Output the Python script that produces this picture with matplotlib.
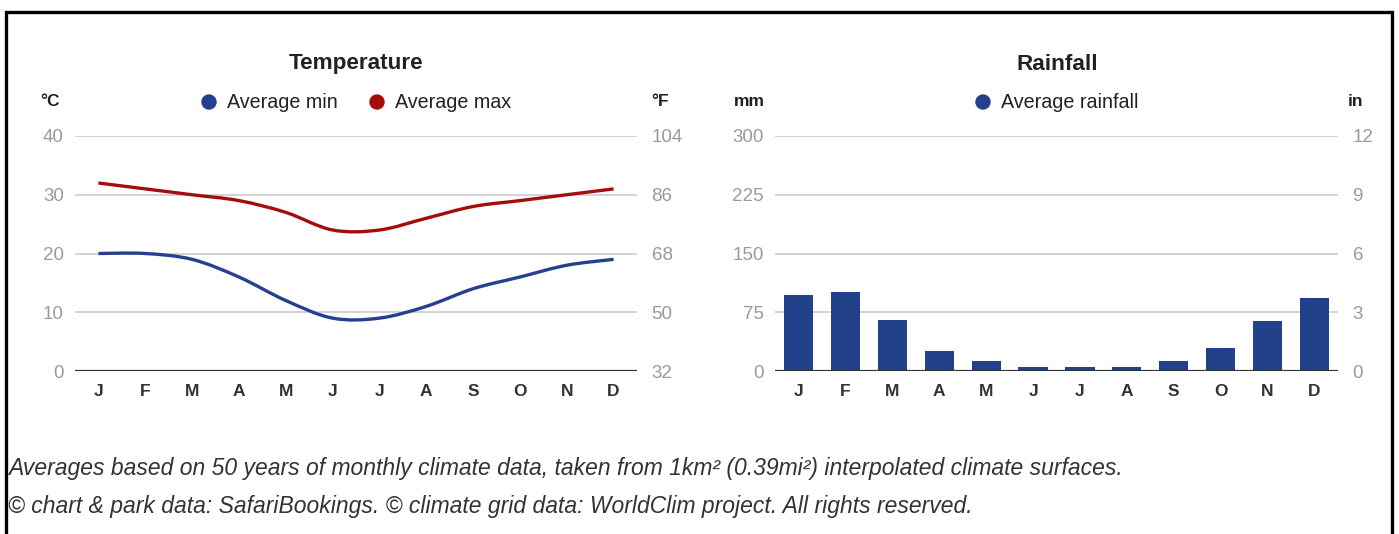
import matplotlib
matplotlib.use("Agg")
import matplotlib.pyplot as plt
from matplotlib.path import Path
from matplotlib.patches import PathPatch, Rectangle, Ellipse
import numpy as np

plt.rcParams['font.family'] = ['Liberation Sans', 'DejaVu Sans']

months = ["J", "F", "M", "A", "M", "J", "J", "A", "S", "O", "N", "D"]
temp_min_c = [20, 20, 19, 16, 12, 9, 9, 11, 14, 16, 18, 19]
temp_max_c = [32, 31, 30, 29, 27, 24, 24, 26, 28, 29, 30, 31]
rain_mm = [97, 101, 65, 26, 13, 5, 5, 5, 13, 29, 64, 93]

c_ticks = [0, 10, 20, 30, 40]
f_ticks = [32, 50, 68, 86, 104]
mm_ticks = [0, 75, 150, 225, 300]
in_ticks = [0, 3, 6, 9, 12]

BLUE = "#24408e"
RED = "#a50d0d"
GRID = "#cccccc"
TICK = "#9a9a9a"
DARK = "#222222"

W, H = 1399, 534
fig = plt.figure(figsize=(W / 100, H / 100), dpi=100)


def fx(x):
    return x / W


def fy(y):
    return 1 - y / H


def make_ax(x0, x1, y0, y1):
    return fig.add_axes([fx(x0), fy(y1), fx(x1) - fx(x0), fy(y0) - fy(y1)])


def style(ax, ticks, right_ticks, rlim):
    ax.set_xlim(-0.5, 11.5)
    ax.set_ylim(ticks[0], ticks[-1])
    for s in ax.spines.values():
        s.set_visible(False)
    ax.set_yticks(ticks)
    ax.set_yticklabels([str(t) for t in ticks])
    ax.tick_params(axis='y', length=0, pad=8, labelsize=13.5, labelcolor=TICK)
    ax.set_xticks(range(12))
    ax.set_xticklabels(months)
    ax.tick_params(axis='x', length=0, pad=9, labelsize=12.5, labelcolor="#333333")
    for lab in ax.get_xticklabels():
        lab.set_fontweight('bold')
    for t in ticks[1:]:
        ax.axhline(t, color=GRID, lw=1.2, zorder=0)
    ax.axhline(ticks[0], color="#333333", lw=1.6, zorder=3)
    ax2 = ax.twinx()
    ax2.set_ylim(*rlim)
    ax2.set_yticks(right_ticks)
    ax2.set_yticklabels([str(t) for t in right_ticks])
    ax2.tick_params(axis='y', length=0, pad=10.5, labelsize=13.5, labelcolor=TICK)
    for s in ax2.spines.values():
        s.set_visible(False)
    return ax2


def smooth_path(xs, ys):
    pts = np.column_stack([xs, ys]).astype(float)
    n = len(pts)
    verts = [pts[0]]
    codes = [Path.MOVETO]
    for i in range(n - 1):
        p0 = pts[i - 1] if i > 0 else pts[i]
        p1 = pts[i]
        p2 = pts[i + 1]
        p3 = pts[i + 2] if i + 2 < n else pts[i + 1]
        c1 = p1 + (p2 - p0) / 6.0
        c2 = p2 - (p3 - p1) / 6.0
        verts += [c1, c2, p2]
        codes += [Path.CURVE4] * 3
    return Path(verts, codes)


# Temperature
axT = make_ax(75, 637, 136, 371)
style(axT, c_ticks, f_ticks, (32, 104))
x = np.arange(12)
for vals, col in [(temp_min_c, BLUE), (temp_max_c, RED)]:
    axT.add_patch(PathPatch(smooth_path(x, vals), facecolor='none',
                            edgecolor=col, lw=2.4, zorder=4, capstyle='butt'))

# Rainfall
axR = make_ax(775, 1338, 136, 371)
style(axR, mm_ticks, in_ticks, (0, 12))
axR.bar(x, rain_mm, width=0.62, color="#22418b", zorder=2)

# Titles, units, legends
fig.text(fx(356), fy(64), "Temperature", ha='center', va='center',
         fontsize=16.2, fontweight='bold', color=DARK)
fig.text(fx(1057), fy(64), "Rainfall", ha='center', va='center',
         fontsize=16.2, fontweight='bold', color=DARK)
for xx, txt in [(40, "°C"), (651, "°F"), (734, "mm"), (1348, "in")]:
    fig.text(fx(xx), fy(102), txt, ha='left', va='center', fontsize=12.5,
             fontweight='bold', color=DARK)

legend_items = [(209, BLUE, "Average min"), (377, RED, "Average max"),
                (983, BLUE, "Average rainfall")]
for cx, col, txt in legend_items:
    fig.add_artist(Ellipse((fx(cx), fy(102)), 14 / W, 14 / H,
                           color=col, transform=fig.transFigure))
    fig.text(fx(cx + 18), fy(102), txt, ha='left', va='center', fontsize=14.2,
             color="#222222")

# Footer
fig.text(fx(8), fy(469), "Averages based on 50 years of monthly climate data, taken from "
         "1km² (0.39mi²) interpolated climate surfaces.", ha='left', va='center',
         fontsize=16.5, style='italic', color="#333333")
fig.text(fx(8), fy(507), "© chart & park data: SafariBookings. © climate grid data: "
         "WorldClim project. All rights reserved.", ha='left', va='center',
         fontsize=16.5, style='italic', color="#333333")

# Frame
fig.add_artist(Rectangle((fx(6), fy(560)), fx(1392) - fx(6), fy(12) - fy(560),
                         fill=False, edgecolor='black', lw=2.4,
                         transform=fig.transFigure, clip_on=False))

fig.savefig("out.png", dpi=100, facecolor='white')
